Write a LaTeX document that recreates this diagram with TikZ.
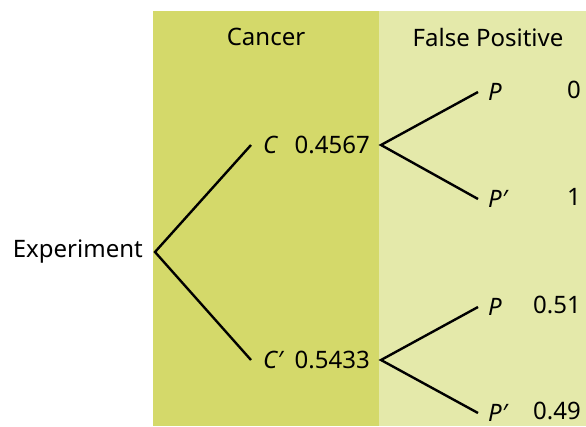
\documentclass[tikz,border=0pt]{standalone}
\usepackage{fontspec}
\setmainfont{Noto Sans}
\usetikzlibrary{positioning}
\definecolor{cancerband}{RGB}{212,217,106}
\definecolor{falseband}{RGB}{228,233,170}

\begin{document}
\begin{tikzpicture}[x=1pt,y=-1pt,
  font=\fontsize{24}{28}\selectfont,
  branch/.style={line width=2.4pt},
  head/.style={inner sep=0pt},
  leaf/.style={anchor=west,inner xsep=10pt,inner ysep=0pt},
  prob/.style={anchor=east,inner xsep=11pt},
  val/.style={anchor=east,inner sep=0pt}]
\useasboundingbox (0,0) rectangle (586,426);
\fill[cancerband] (153,11) rectangle (379,426);
\fill[falseband] (379,11) rectangle (586,426);

\node[head] (cancer) at (266,37){Cancer};
\node[head] (falsepos) at (488,37){False Positive};

\node[anchor=east,inner xsep=12pt] (exp) at (155,252){Experiment};

\node[anchor=west,inner xsep=12pt] (c) at (251,145){\textit{C}};
\node[prob] (pc) at (381,145){0.4567};
\node[anchor=west,inner xsep=12pt] (cn) at (251,360){\textit{C′}};
\node[prob] (pcn) at (381,360){0.5433};

\node[leaf] (p1) at (478,92){\textit{P}};
\node[leaf] (pn1) at (478,199){\textit{P′}};
\node[leaf] (p2) at (478,307){\textit{P}};
\node[leaf] (pn2) at (478,413){\textit{P′}};

\node[val] (v1) at (581,90){0};
\node[val] (v2) at (581,197){1};
\node[val] (v3) at (581,305){0.51};
\node[val] (v4) at (581,411){0.49};

\draw[branch] (c.west) -- (exp.east) -- (cn.west);
\draw[branch] (p1.west) -- (pc.east) -- (pn1.west);
\draw[branch] (p2.west) -- (pcn.east) -- (pn2.west);
\end{tikzpicture}
\end{document}
